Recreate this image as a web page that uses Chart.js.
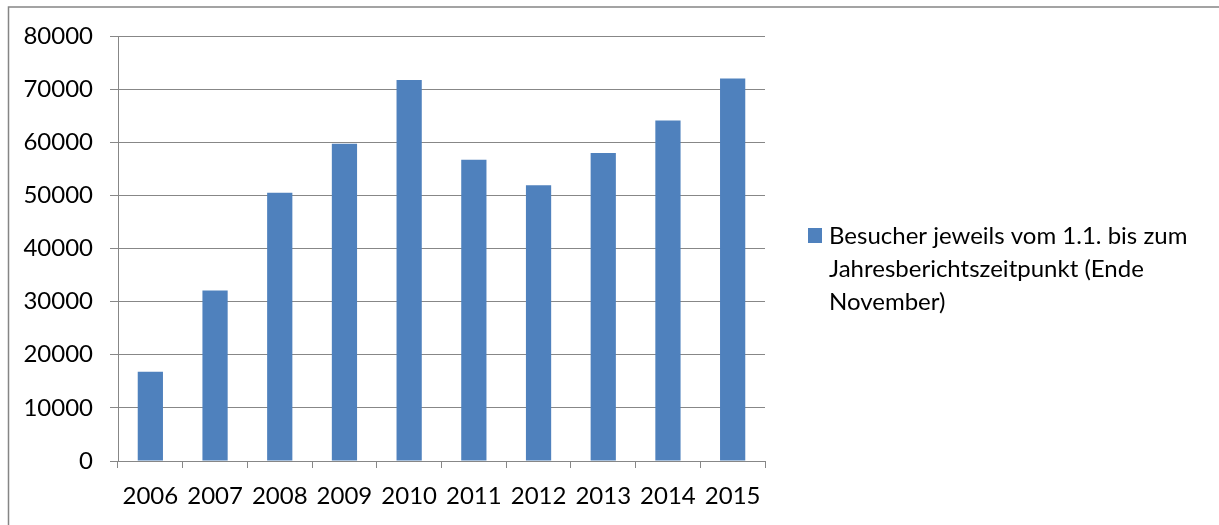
<!DOCTYPE html>
<html>
<head>
<meta charset="utf-8">
<title>Besucher</title>
<script src="https://cdn.jsdelivr.net/npm/chart.js@4"></script>
<style>
  html, body { margin: 0; padding: 0; background: #fff; }
  #wrap { width: 1219px; height: 525px; position: relative; }
</style>
</head>
<body>
<div id="wrap"><canvas id="besucherChart"></canvas></div>
<script>
// Jahre und Besucherzahlen
var years = ['2006', '2007', '2008', '2009', '2010', '2011', '2012', '2013', '2014', '2015'];
var visitors = [16800, 32100, 50500, 59700, 71700, 56700, 51900, 58000, 64100, 72000];
var seriesLabel = 'Besucher jeweils vom 1.1. bis zum Jahresberichtszeitpunkt (Ende November)';
var yMax = 80000;
var yStep = 10000;

var fontFamily = 'Lato, "Open Sans", sans-serif';
var fontSize = 24;
var lineGray = '#878787';
var barBlue = '#4F81BD';

// Rahmen um das ganze Diagramm (rechts/unten abgeschnitten)
var framePlugin = {
    id: 'frame',
    beforeDraw: function(chart) {
        var ctx = chart.ctx;
        ctx.save();
        ctx.strokeStyle = '#858585';
        ctx.lineWidth = 1.5;
        ctx.beginPath();
        ctx.moveTo(8.5, chart.height + 5);
        ctx.lineTo(8.5, 7);
        ctx.lineTo(chart.width + 5, 7);
        ctx.stroke();
        ctx.restore();
    }
};

// Legende rechts, Text wird umgebrochen
var sideLegend = {
    id: 'sideLegend',
    afterDraw: function(chart) {
        var ctx = chart.ctx;
        var ds = chart.data.datasets[0];
        var x = chart.chartArea.right + 43;
        var top = chart.chartArea.top + 192;
        var lineH = 33;
        ctx.save();
        ctx.font = fontSize + 'px ' + fontFamily;
        ctx.fillStyle = ds.backgroundColor;
        ctx.fillRect(x, top, 14, 15);

        var maxW = chart.width - (x + 21) - 6;
        var words = ds.label.split(' ');
        var lines = [];
        var cur = '';
        words.forEach(function(w) {
            var test = cur ? cur + ' ' + w : w;
            if (ctx.measureText(test).width > maxW && cur) {
                lines.push(cur);
                cur = w;
            } else {
                cur = test;
            }
        });
        if (cur) lines.push(cur);

        ctx.fillStyle = '#000';
        ctx.textBaseline = 'alphabetic';
        ctx.textAlign = 'left';
        lines.forEach(function(l, i) {
            ctx.fillText(l, x + 21, top + 16 + i * lineH);
        });
        ctx.restore();
    }
};

var ctx = document.getElementById('besucherChart').getContext('2d');
var chart = new Chart(ctx, {
    type: 'bar',
    data: {
        labels: years,
        datasets: [{
            label: seriesLabel,
            data: visitors,
            backgroundColor: barBlue,
            borderWidth: 0,
            categoryPercentage: 1.0,
            barPercentage: 0.39
        }]
    },
    options: {
        responsive: true,
        maintainAspectRatio: false,
        animation: false,
        layout: {
            padding: { left: 0, top: 36, right: 454, bottom: 0 }
        },
        plugins: {
            legend: { display: false },
            tooltip: { enabled: false }
        },
        scales: {
            x: {
                grid: {
                    display: true,
                    drawOnChartArea: false,
                    drawTicks: true,
                    tickLength: 7,
                    color: lineGray,
                    lineWidth: 1
                },
                border: { display: true, color: lineGray, width: 1 },
                ticks: {
                    color: '#000',
                    padding: 14,
                    font: { family: fontFamily, size: fontSize }
                },
                afterFit: function(scale) { scale.height = 64; }
            },
            y: {
                min: 0,
                max: yMax,
                ticks: {
                    stepSize: yStep,
                    color: '#000',
                    padding: 17,
                    font: { family: fontFamily, size: fontSize },
                    callback: function(v) { return String(v); }
                },
                grid: {
                    color: lineGray,
                    lineWidth: 1,
                    tickLength: 8
                },
                border: { display: true, color: lineGray, width: 1 },
                afterFit: function(scale) { scale.width = 118; }
            }
        }
    },
    plugins: [framePlugin, sideLegend]
});
</script>
</body>
</html>
